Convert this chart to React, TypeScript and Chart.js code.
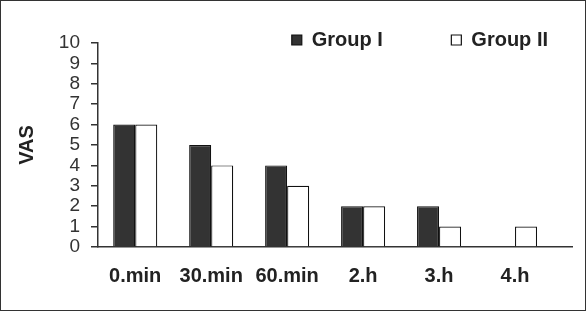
import React, { useEffect, useRef } from "react";
import { Chart, registerables } from "chart.js";

Chart.register(...registerables);

const categories = ["0.min", "30.min", "60.min", "2.h", "3.h", "4.h"];
const group1 = [6, 5, 4, 2, 2, null];
const group2 = [6, 4, 3, 2, 1, 1];
const seriesNames = ["Group I", "Group II"];
const yAxisTitle = "VAS";

const FONT = "'Liberation Sans', Arial, sans-serif";

export default function App() {
  const ref = useRef<HTMLCanvasElement | null>(null);

  useEffect(() => {
    document.body.style.margin = "0";
    const canvas = ref.current;
    if (!canvas) return;
    const toPoints = (vals: (number | null)[]) =>
      categories.map((_, i) => ({ x: i, y: vals[i] }));

    // let the legend overlap the top of the plot area (as in the reference)
    const legendClipPlugin = {
      id: "legendClip",
      afterLayout(c: any) {
        if (c.legend) c.legend.bottom = c.chartArea.bottom;
      },
    };

    const chart = new Chart(canvas, {
      type: "bar",
      data: {
        datasets: [
          {
            label: seriesNames[0],
            data: toPoints(group1) as any,
            backgroundColor: "#333333",
            borderColor: "#111111",
            borderWidth: 1.2,
            barPercentage: 1,
            categoryPercentage: 0.58,
          },
          {
            label: seriesNames[1],
            data: toPoints(group2) as any,
            backgroundColor: "#ffffff",
            borderColor: "#111111",
            borderWidth: 1.2,
            barPercentage: 1,
            categoryPercentage: 0.58,
          },
        ],
      },
      plugins: [legendClipPlugin],
      options: {
        animation: false,
        responsive: false,
        maintainAspectRatio: false,
        layout: { padding: { left: 10, right: 13, top: 5, bottom: 22 } },
        plugins: {
          tooltip: { enabled: false },
          legend: {
            position: "top",
            align: "end",
            maxHeight: 37,
            labels: {
              boxWidth: 10,
              boxHeight: 10,
              padding: 24,
              color: "#222",
              font: { family: FONT, size: 20, weight: "bold" },
              generateLabels: (c: any) => {
                const items = Chart.defaults.plugins.legend.labels.generateLabels(c);
                if (items[0]) items[0].text = items[0].text + "        ";
                return items;
              },
            },
          },
        },
        scales: {
          x: {
            type: "linear",
            offset: false,
            min: -0.49,
            max: 5.75,
            grid: { display: false, drawTicks: false, tickLength: 0, offset: false },
            border: { display: true, color: "#333", width: 1.5 },
            afterBuildTicks: (scale: any) => {
              scale.ticks = categories.map((_, i) => ({ value: i }));
            },
            afterFit: (scale: any) => {
              scale.height = 41;
            },
            ticks: {
              autoSkip: false,
              maxRotation: 0,
              minRotation: 0,
              padding: 17,
              color: "#222",
              font: { family: FONT, size: 20, weight: "bold" },
              callback: (v: any) => categories[Math.round(Number(v))] ?? "",
            },
          },
          y: {
            min: 0,
            max: 10,
            grid: {
              display: true,
              drawOnChartArea: false,
              drawTicks: true,
              tickLength: 7,
              color: "#333",
              lineWidth: 1.5,
            },
            border: { display: true, color: "#333", width: 1.5 },
            afterFit: (scale: any) => {
              scale.width = 87;
            },
            ticks: {
              stepSize: 1,
              autoSkip: false,
              padding: 11,
              color: "#333",
              font: { family: FONT, size: 19 },
            },
            title: {
              display: true,
              text: yAxisTitle,
              color: "#222",
              padding: { top: 4, bottom: 20 },
              font: { family: FONT, size: 20, weight: "bold" },
            },
          },
        },
      } as any,
    });
    return () => chart.destroy();
  }, []);

  return (
    <div
      style={{
        width: 586,
        height: 311,
        boxSizing: "border-box",
        border: "1px solid #333",
        background: "#fff",
      }}
    >
      <canvas ref={ref} width={584} height={309} style={{ display: "block" }} />
    </div>
  );
}
